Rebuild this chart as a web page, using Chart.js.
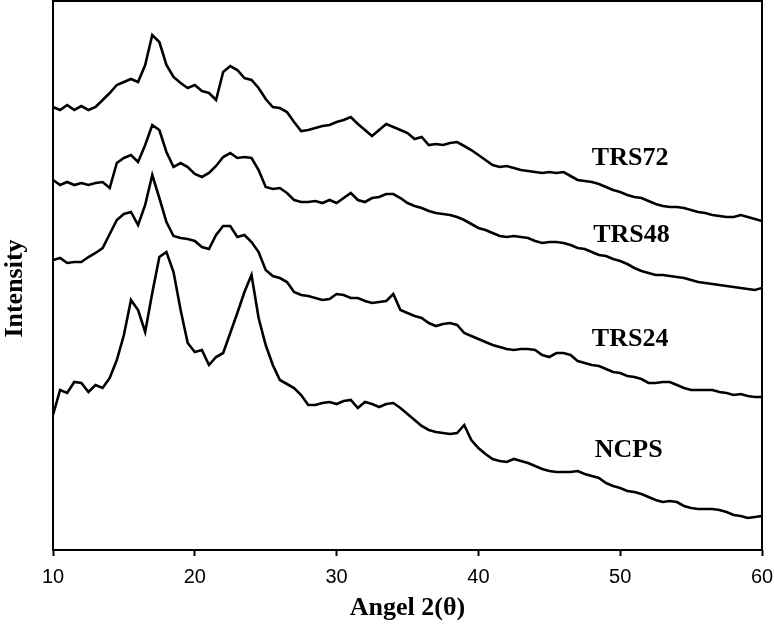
<!DOCTYPE html>
<html>
<head>
<meta charset="utf-8">
<script src="https://cdn.jsdelivr.net/npm/chart.js@4/dist/chart.umd.min.js"></script>
<style>
  html, body { margin: 0; padding: 0; background: #fff; }
  #wrap { width: 774px; height: 625px; }
</style>
</head>
<body>
<div id="wrap"><canvas id="xrd" width="774" height="625"></canvas></div>
<script>
// 衍射角 2θ，每 0.5° 一个点
const angles = [];
for (let i = 0; i <= 100; i++) angles.push(10 + i * 0.5);

// 各样品强度 (任意单位，从图上读出)
const trs72 = [
  443,440,445,440,444,440,443,450,457,465,
  468,471,468,485,515,508,485,473,467,462,
  465,459,457,450,478,484,480,472,470,462,
  451,443,442,438,428,419,420,422,424,425,
  428,430,433,426,420,414,420,426,423,420,
  417,411,413,405,406,405,407,408,404,400,
  395,390,385,383,384,382,380,379,378,377,
  378,377,378,374,370,369,368,366,363,360,
  358,355,353,352,349,346,344,343,343,342,
  340,338,337,335,334,333,333,335,333,331,
  329
];
const trs48 = [
  370,365,368,365,367,365,367,368,362,387,
  392,395,388,405,425,420,398,383,387,383,
  376,373,377,384,393,397,392,393,392,380,
  363,361,362,357,350,348,348,349,347,350,
  347,352,357,350,348,352,353,356,356,352,
  347,344,342,339,337,336,335,333,330,326,
  322,320,317,314,313,314,313,312,309,307,
  308,308,307,305,302,301,298,295,294,291,
  289,286,282,279,277,275,275,274,273,272,
  270,268,267,266,265,264,263,262,261,260,
  262
];
const trs24 = [
  290,292,287,288,288,293,297,302,316,330,
  336,338,325,345,375,352,328,314,312,311,
  309,303,301,315,324,324,313,315,308,298,
  280,274,272,268,258,255,254,252,250,251,
  256,255,252,252,249,247,248,249,256,240,
  237,234,232,227,224,226,227,225,217,214,
  211,208,205,203,201,200,201,201,200,195,
  193,197,197,195,189,187,185,184,181,178,
  177,174,173,171,167,167,168,168,165,162,
  160,160,160,160,158,157,155,156,154,153,
  153
];
const ncps = [
  135,160,157,168,167,158,165,162,172,190,
  215,250,240,218,257,293,298,278,240,207,
  198,200,185,193,197,217,237,258,275,232,
  205,185,170,166,162,155,145,145,147,148,
  146,149,150,142,148,146,143,146,147,142,
  136,130,124,120,118,117,116,117,125,110,
  102,96,91,89,88,91,89,87,84,81,
  79,78,78,78,79,76,74,72,67,64,
  62,59,58,56,53,50,48,49,48,44,
  42,41,41,41,40,38,35,34,32,33,
  34
];
const sampleNames = ['TRS72', 'TRS48', 'TRS24', 'NCPS'];
const xTicks = [10, 20, 30, 40, 50, 60];

const serif = '"Liberation Serif", "Times New Roman", serif';
const sans = '"Liberation Sans", Arial, sans-serif';

function toPoints(vals) {
  return vals.map((v, i) => ({ x: angles[i], y: v }));
}

// 外框
const framePlugin = {
  id: 'frame',
  afterDraw(chart) {
    const a = chart.chartArea;
    const ctx = chart.ctx;
    ctx.save();
    ctx.strokeStyle = '#000';
    ctx.lineWidth = 2;
    ctx.strokeRect(a.left, a.top, a.right - a.left, a.bottom - a.top);
    ctx.restore();
  }
};

// 曲线旁的样品名
const curveLabels = {
  id: 'curveLabels',
  afterDatasetsDraw(chart, args, opts) {
    const ctx = chart.ctx;
    const xs = chart.scales.x, ys = chart.scales.y;
    ctx.save();
    ctx.fillStyle = '#000';
    ctx.font = 'bold 26px ' + serif;
    ctx.textAlign = 'center';
    ctx.textBaseline = 'middle';
    opts.items.forEach((it, i) => {
      ctx.fillText(sampleNames[i], xs.getPixelForValue(it.x), ys.getPixelForValue(it.y));
    });
    ctx.restore();
  }
};

new Chart(document.getElementById('xrd'), {
  type: 'line',
  data: {
    datasets: [trs72, trs48, trs24, ncps].map((s, i) => ({
      label: sampleNames[i],
      data: toPoints(s),
      borderColor: '#000',
      borderWidth: 2.6,
      pointRadius: 0,
      tension: 0,
      fill: false
    }))
  },
  options: {
    responsive: false,
    animation: false,
    events: [],
    layout: { padding: { top: 1, right: 12, left: 0, bottom: 0 } },
    plugins: {
      legend: { display: false },
      tooltip: { enabled: false },
      curveLabels: {
        items: [
          { x: 50.7, y: 392 },
          { x: 50.8, y: 315 },
          { x: 50.7, y: 211 },
          { x: 50.6, y: 100 }
        ]
      }
    },
    scales: {
      x: {
        type: 'linear',
        min: 10,
        max: 60,
        afterBuildTicks(scale) { scale.ticks = xTicks.map(v => ({ value: v })); },
        afterFit(scale) {
          scale.height = 75;
          // 不让两端刻度文字挤占绘图区
          scale.paddingLeft = 0;
          scale.paddingRight = 0;
        },
        border: { display: false },
        grid: { drawOnChartArea: false, drawTicks: true, tickLength: 6, tickWidth: 2, tickColor: '#000' },
        ticks: { color: '#000', padding: 9, maxRotation: 0, font: { family: sans, size: 20 } },
        title: {
          display: true,
          text: 'Angel 2(θ)',
          color: '#000',
          padding: { top: 0, bottom: 1 },
          font: { family: serif, size: 26, weight: 'bold' }
        }
      },
      y: {
        min: 0,
        max: 549,
        afterFit(scale) { scale.width = 53; },
        border: { display: false },
        grid: { display: false },
        ticks: { display: false },
        title: {
          display: true,
          // 末尾空格让标题略往下移，与原图位置一致
          text: 'Intensity    ',
          color: '#000',
          padding: { top: 0, bottom: 0 },
          font: { family: serif, size: 26, weight: 'bold' }
        }
      }
    }
  },
  plugins: [framePlugin, curveLabels]
});
</script>
</body>
</html>
